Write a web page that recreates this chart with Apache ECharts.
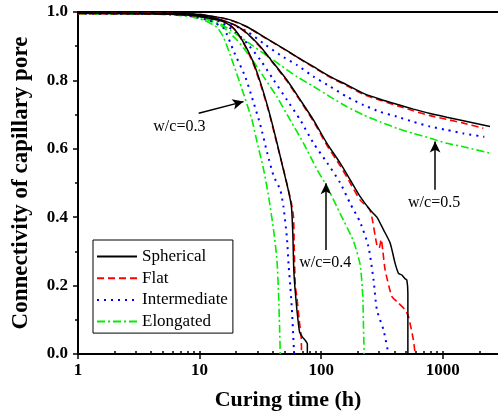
<!DOCTYPE html>
<html>
<head>
<meta charset="utf-8">
<script src="https://cdn.jsdelivr.net/npm/echarts@6/dist/echarts.min.js"></script>
<style>
html,body{margin:0;padding:0;background:#fff;}
#chart{width:498px;height:419px;}
</style>
</head>
<body>
<div id="chart"></div>
<script>
// ---- data (curing time h, connectivity) ----
const shapeNames = ['Spherical', 'Flat', 'Intermediate', 'Elongated'];
const xMajorTicks = [1, 10, 100, 1000];
const xMinorTicks = [2,3,4,5,6,7,8,9,20,30,40,50,60,70,80,90,200,300,400,500,600,700,800,900,2000];
const yTicks = [0, 0.2, 0.4, 0.6, 0.8, 1.0];

// w/c = 0.3
const sph03 = [[1,0.996],[4,0.995],[8,0.991],[12,0.982],[15.7,0.972],[19.1,0.952],[22.4,0.918],[27,0.862],[31.6,0.795],[37,0.713],[43.3,0.618],[49,0.538],[54,0.475],[57,0.43],[58.6,0.343],[59.5,0.25],[61,0.19],[63.2,0.129],[66.4,0.065],[70,0.05],[74,0.04],[77,0.03],[77,0]];
const flat03 = [[1,0.996],[4,0.995],[8,0.991],[12,0.982],[15.7,0.972],[19.1,0.952],[22.4,0.916],[27,0.858],[31.6,0.79],[37,0.71],[43.3,0.614],[49,0.54],[53,0.49],[57,0.44],[59.3,0.40],[60,0.32],[61.3,0.2],[63,0.17],[66,0.1],[68.5,0.05],[69,0]];
const int03 = [[1,0.996],[4,0.995],[8,0.99],[12,0.975],[15.8,0.952],[19.1,0.885],[23.8,0.81],[27,0.75],[31.6,0.67],[35.9,0.59],[40.7,0.52],[46.1,0.48],[49,0.43],[52.3,0.34],[54,0.26],[55.7,0.2],[57.5,0.13],[59,0.05],[60,0]];
const elo03 = [[1,0.995],[4,0.994],[8,0.988],[11,0.975],[13.9,0.955],[15.8,0.925],[19.1,0.845],[22.3,0.775],[27,0.684],[29.7,0.62],[33.6,0.54],[37,0.46],[40.7,0.36],[43.3,0.275],[44.7,0.17],[45.5,0.08],[46.1,0]];

// w/c = 0.4
const sph04 = [[1,0.996],[5,0.995],[10,0.99],[15,0.977],[20,0.96],[24.6,0.938],[31.6,0.899],[40.7,0.85],[52.3,0.801],[67.4,0.743],[86.6,0.684],[111.6,0.616],[143.6,0.558],[173.5,0.509],[209.6,0.46],[253,0.421],[287.5,0.4],[326,0.363],[370,0.324],[406,0.265],[433,0.236],[461,0.231],[490,0.22],[507,0.216],[517,0.177],[517,0]];
const flat04 = [[1,0.996],[5,0.995],[10,0.99],[15,0.977],[20,0.96],[24.6,0.937],[31.6,0.897],[40.7,0.848],[52.3,0.798],[67.4,0.74],[86.6,0.68],[111.6,0.61],[143.6,0.55],[173.5,0.5],[209.6,0.45],[253,0.42],[287,0.32],[300,0.31],[312,0.335],[322,0.3],[336,0.246],[382,0.168],[430,0.15],[491,0.129],[523,0.109],[574,0.041],[593,0]];
const int04 = [[1,0.996],[5,0.995],[10,0.988],[15,0.97],[20,0.94],[24.6,0.908],[31.6,0.86],[40.7,0.801],[52.3,0.743],[67.4,0.684],[86.6,0.616],[111.6,0.56],[143.6,0.5],[173.5,0.44],[209.6,0.385],[245,0.314],[270,0.216],[287.5,0.129],[326,0.07],[358,0]];
const elo04 = [[1,0.995],[5,0.994],[10,0.985],[15,0.96],[20.3,0.918],[26.1,0.869],[33.6,0.811],[43.3,0.752],[55.7,0.684],[71.7,0.616],[92.3,0.54],[111.6,0.49],[143.6,0.41],[184.6,0.33],[209.6,0.26],[220,0.17],[223,0.08],[226,0]];

// w/c = 0.5
const sph05 = [[1,0.997],[5,0.996],[10,0.993],[14,0.985],[17.9,0.977],[24.6,0.957],[33.6,0.928],[46.1,0.899],[63.2,0.869],[86.6,0.84],[118.8,0.811],[163,0.787],[223,0.762],[306,0.745],[420,0.73],[574,0.716],[788,0.703],[1081,0.692],[1480,0.682],[2450,0.665]];
const flat05 = [[1,0.997],[5,0.996],[10,0.993],[14,0.985],[17.9,0.976],[24.6,0.956],[33.6,0.927],[46.1,0.898],[63.2,0.868],[86.6,0.838],[118.8,0.809],[163,0.784],[223,0.759],[306,0.742],[420,0.726],[574,0.711],[788,0.697],[1081,0.686],[1480,0.675],[2160,0.66]];
const int05 = [[1,0.997],[5,0.995],[10,0.99],[14,0.98],[17.9,0.965],[24.6,0.943],[33.6,0.908],[46.1,0.874],[63.2,0.845],[86.6,0.811],[118.8,0.782],[163,0.752],[223,0.728],[306,0.708],[420,0.694],[574,0.679],[788,0.665],[1081,0.655],[1480,0.645],[2200,0.635]];
const elo05 = [[1,0.997],[5,0.995],[10,0.985],[14,0.97],[17.9,0.947],[24.6,0.913],[33.6,0.879],[46.1,0.845],[63.2,0.811],[86.6,0.782],[118.8,0.752],[163,0.723],[223,0.699],[306,0.679],[420,0.66],[574,0.645],[788,0.631],[1081,0.616],[1480,0.606],[2450,0.587]];

// annotation labels and arrows (data coordinates)
const annoTexts = [
  {text: 'w/c=0.3', at: [6.82, 0.664]},
  {text: 'w/c=0.4', at: [108, 0.266]},
  {text: 'w/c=0.5', at: [850, 0.4415]}
];
const annoArrows = [
  {from: [9.83, 0.704], to: [23.0, 0.738]},
  {from: [109.5, 0.304], to: [109.5, 0.499]},
  {from: [866, 0.48], to: [866, 0.621]}
];

// ---- styles ----
const FONT = 'Liberation Serif, Times New Roman, serif';
const styleByShape = {
  'Spherical':    {color: '#000000', type: 'solid', width: 1.5},
  'Flat':         {color: '#ff0000', type: [7, 4], width: 1.6},
  'Intermediate': {color: '#0000ff', type: [2, 5], width: 2},
  'Elongated':    {color: '#00ee00', type: [8, 3, 2, 3], width: 1.6}
};
const groups = [
  [sph03, flat03, int03, elo03],
  [sph04, flat04, int04, elo04],
  [sph05, flat05, int05, elo05]
];

const series = [];
groups.forEach(g => {
  g.forEach((d, i) => {
    const nm = shapeNames[i];
    const st = styleByShape[nm];
    series.push({
      name: nm, type: 'line', data: d, xAxisIndex: 0, yAxisIndex: 0,
      showSymbol: false, symbol: 'none', smooth: 0.2,
      color: st.color,
      lineStyle: {color: st.color, type: st.type, width: st.width},
      z: 5 - i, animation: false
    });
  });
});

series.push({
  name: 'annotations', type: 'line', data: [], xAxisIndex: 0, yAxisIndex: 0, animation: false,
  markLine: {
    silent: true, animation: false,
    symbol: ['none', 'arrow'], symbolSize: [8, 11],
    lineStyle: {color: '#000', type: 'solid', width: 1.5},
    label: {show: false},
    data: annoArrows.map(a => [{coord: a.from}, {coord: a.to}])
  },
  markPoint: {
    silent: true, animation: false,
    symbol: 'rect', symbolSize: 1, itemStyle: {color: 'rgba(0,0,0,0)'},
    label: {show: true, position: 'inside', color: '#000', fontFamily: FONT, fontSize: 16, formatter: p => p.name},
    data: annoTexts.map(a => ({name: a.text, coord: a.at}))
  }
});

const chart = echarts.init(document.getElementById('chart'), null, {renderer: 'canvas'});
chart.setOption({
  backgroundColor: '#ffffff',
  animation: false,
  grid: {left: 78, right: 0, top: 12, bottom: 65, containLabel: false},
  legend: {
    data: shapeNames, orient: 'vertical', left: 93, top: 240,
    itemWidth: 40, itemHeight: 14, itemGap: 4.7,
    padding: [8, 5, 3, 3],
    itemStyle: {opacity: 0},
    borderColor: '#000', borderWidth: 1, borderRadius: 0, backgroundColor: '#fff',
    textStyle: {fontFamily: FONT, fontSize: 17, color: '#000'},
    selectedMode: false
  },
  xAxis: [
    {
      type: 'log', logBase: 10, min: 1, max: 2850, position: 'bottom',
      name: 'Curing time (h)', nameLocation: 'middle', nameGap: 35,
      nameTextStyle: {fontFamily: FONT, fontSize: 22, fontWeight: 'bold', color: '#000'},
      axisLine: {show: true, lineStyle: {color: '#000', width: 2}},
      axisTick: {show: true, inside: false, length: 5, lineStyle: {color: '#000', width: 1.5}, customValues: xMajorTicks},
      axisLabel: {show: true, margin: 8, fontFamily: FONT, fontSize: 17, fontWeight: 'bold', color: '#000', customValues: xMajorTicks, formatter: v => String(Math.round(v))},
      splitLine: {show: false}
    },
    {
      type: 'log', logBase: 10, min: 1, max: 2850, position: 'bottom',
      axisLine: {show: false},
      axisTick: {show: true, inside: true, length: 3, lineStyle: {color: '#000', width: 1.5}, customValues: xMajorTicks.concat(xMinorTicks)},
      axisLabel: {show: false},
      splitLine: {show: false}
    },
    {
      type: 'log', logBase: 10, min: 1, max: 2850, position: 'top',
      axisLine: {show: true, lineStyle: {color: '#000', width: 2}},
      axisTick: {show: false}, axisLabel: {show: false}, splitLine: {show: false}
    }
  ],
  yAxis: [{
    type: 'value', min: 0, max: 1, interval: 0.2,
    name: 'Connectivity of capillary pore', nameLocation: 'middle', nameGap: 45,
    nameTextStyle: {fontFamily: FONT, fontSize: 23, fontWeight: 'bold', color: '#000'},
    axisLine: {show: true, lineStyle: {color: '#000', width: 2}},
    axisTick: {show: true, inside: false, length: 5, lineStyle: {color: '#000', width: 1.5}},
    minorTick: {show: true, splitNumber: 2, length: 3, lineStyle: {color: '#000', width: 1.5}},
    axisLabel: {margin: 10, fontFamily: FONT, fontSize: 17, fontWeight: 'bold', color: '#000', formatter: v => v.toFixed(1)},
    splitLine: {show: false}
  }],
  series: series
});
</script>
</body>
</html>
